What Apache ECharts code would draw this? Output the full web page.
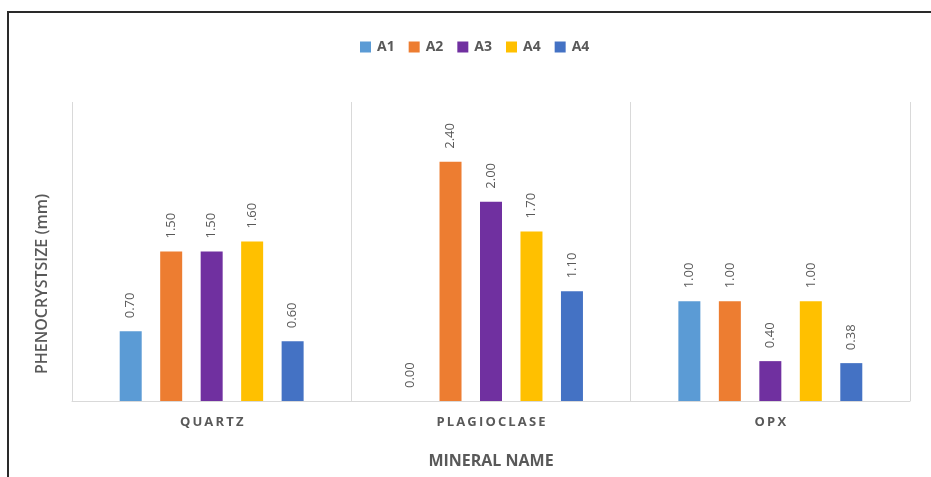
<!DOCTYPE html>
<html>
<head>
<meta charset="utf-8">
<script src="https://cdn.jsdelivr.net/npm/echarts@6/dist/echarts.min.js"></script>
<style>
  html, body { margin: 0; padding: 0; background: #fff; }
  #chart { width: 931px; height: 477px; }
</style>
</head>
<body>
<div id="chart"></div>
<script>
// Phenocryst size per mineral, samples A1..A4
const minerals = ['QUARTZ', 'PLAGIOCLASE', 'OPX'];
const seriesNames = ['A1', 'A2', 'A3', 'A4', 'A4 '];
const valuesA1 = [0.70, 0.00, 1.00];
const valuesA2 = [1.50, 2.40, 1.00];
const valuesA3 = [1.50, 2.00, 0.40];
const valuesA4 = [1.60, 1.70, 1.00];
const valuesA4b = [0.60, 1.10, 0.38];
const colors = ['#5B9BD5', '#ED7D31', '#7030A0', '#FFC000', '#4472C4'];

const allValues = [valuesA1, valuesA2, valuesA3, valuesA4, valuesA4b];
const fontFamily = '"Open Sans", Lato, sans-serif';
const textGrey = '#595959';

const chart = echarts.init(document.getElementById('chart'));

// Spread category letters a little, like the original typography
const spaced = s => s.split('').join('\u2009');

chart.setOption({
  animation: false,
  color: colors,
  legend: {
    top: 35,
    left: 355,
    icon: 'rect',
    itemWidth: 11,
    itemHeight: 11,
    itemGap: 14,
    textStyle: { color: textGrey, fontWeight: 'bold', fontSize: 14, fontFamily, padding: [0, 0, 0, 1] }
  },
  grid: { left: 72, right: 21, top: 102, bottom: 76 },
  xAxis: {
    type: 'category',
    data: minerals,
    name: 'MINERAL NAME',
    nameLocation: 'middle',
    nameGap: 52,
    nameTextStyle: { color: textGrey, fontWeight: 'bold', fontSize: 16, fontFamily },
    axisLine: { lineStyle: { color: '#d9d9d9', width: 1 } },
    axisTick: { show: false },
    splitLine: { show: true, lineStyle: { color: '#d9d9d9', width: 1 } },
    axisLabel: {
      margin: 15,
      color: textGrey,
      fontWeight: 'bold',
      fontSize: 13,
      fontFamily,
      formatter: v => spaced(v)
    }
  },
  yAxis: {
    type: 'value',
    min: 0,
    max: 3,
    axisLine: { show: false },
    axisTick: { show: false },
    axisLabel: { show: false },
    splitLine: { show: false }
  },
  graphic: [
    {
      type: 'rect',
      shape: { x: 8, y: 12, width: 960, height: 500 },
      style: { fill: null, stroke: '#2a2a2a', lineWidth: 2 },
      silent: true
    },
    {
      type: 'text',
      x: 42,
      y: 284,
      rotation: Math.PI / 2,
      style: {
        text: 'PHENOCRYSTSIZE (mm)',
        fill: textGrey,
        font: '600 16px ' + fontFamily,
        align: 'center',
        verticalAlign: 'middle'
      }
    }
  ],
  series: seriesNames.map((name, i) => ({
    name,
    type: 'bar',
    data: allValues[i],
    barWidth: 22,
    barGap: '84%',
    itemStyle: { color: colors[i] },
    label: {
      show: true,
      position: 'top',
      rotate: 90,
      align: 'left',
      verticalAlign: 'middle',
      distance: 13,
      color: textGrey,
      fontSize: 13,
      fontFamily,
      formatter: p => p.value.toFixed(2)
    }
  }))
});
</script>
</body>
</html>
